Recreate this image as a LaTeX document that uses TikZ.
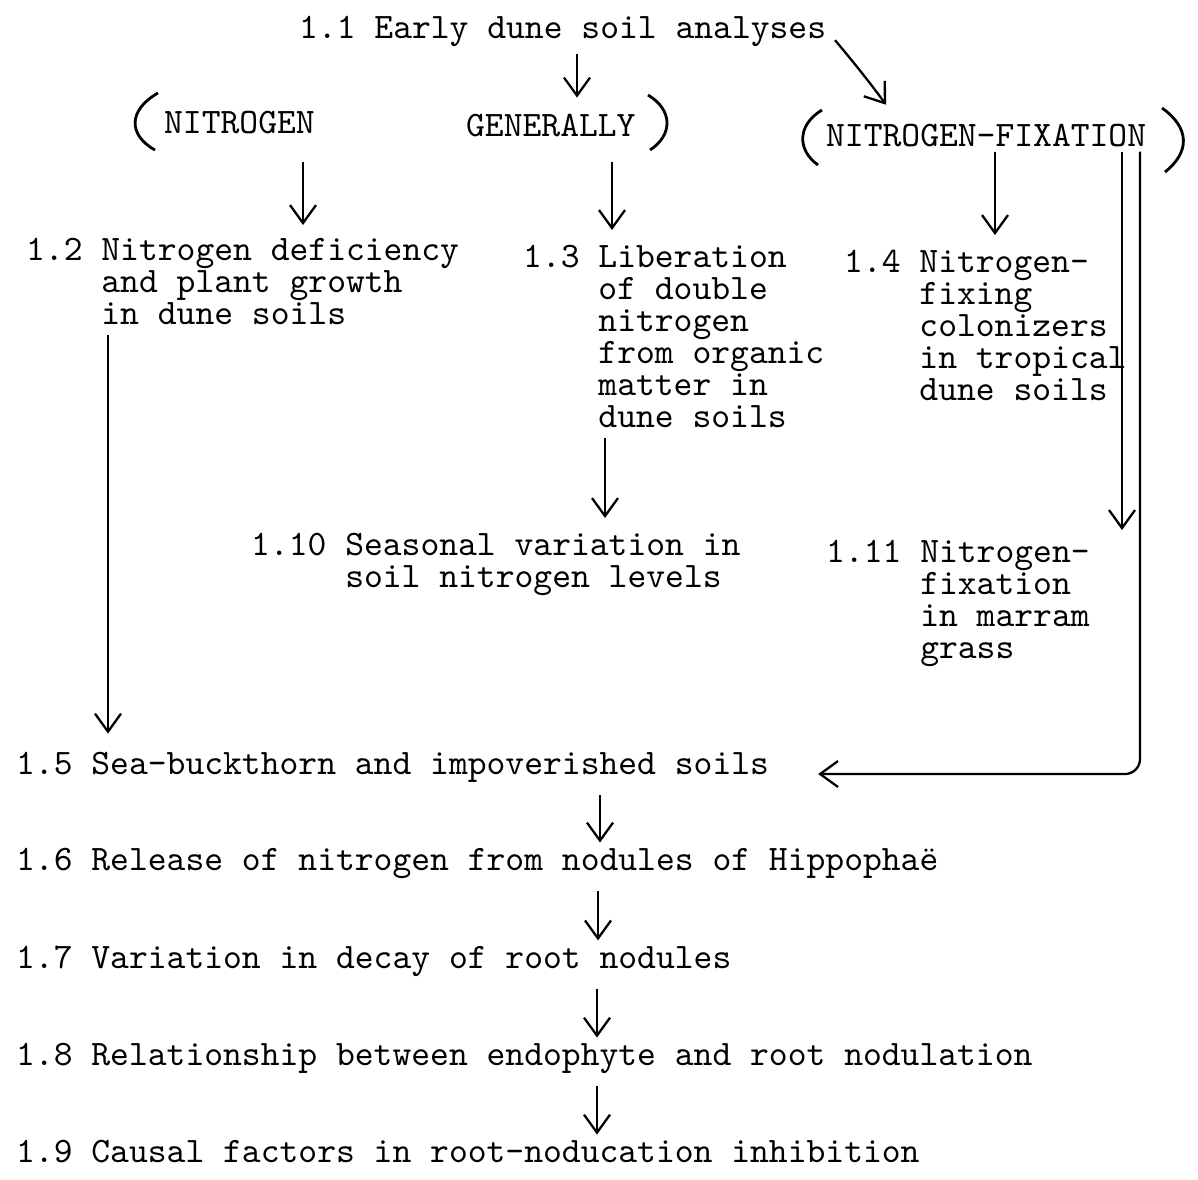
\documentclass[tikz,border=0pt]{standalone}
\usepackage{fontspec}
\usetikzlibrary{arrows.meta}

\begin{document}
\begin{tikzpicture}[x=0.1mm, y=-0.1mm, line width=0.65pt,
	every node/.style={inner sep=0pt, font=\ttfamily\fontsize{10.2}{9.1}\selectfont},
	txt/.style={anchor=base west},
	blk/.style={anchor=north west},
	arr/.style={->, shorten <=1.2mm, shorten >=0.4mm},
	paren/.style={line width=0.8pt},
	>={Straight Barb[length=1.8mm,width=2.6mm]}]
	\useasboundingbox (0,0) rectangle (1198,1179);

	% headings
	\node[txt] (n11) at (298,38) {1.1 Early dune soil analyses};
	\node[txt] (nitro) at (163,133) {NITROGEN};
	\node[txt] (gen) at (465,136) {GENERALLY};
	\node[txt] (nfix) at (825,146) {NITROGEN-FIXATION};

	% brackets
	\draw[paren] (158,93) .. controls (128,110) and (128,135) .. (155,150);
	\draw[paren] (648,95) .. controls (673,110) and (673,135) .. (650,150);
	\draw[paren] (822,110) .. controls (797,125) and (797,150) .. (818,165);
	\draw[paren] (1162,108) .. controls (1190,128) and (1190,152) .. (1165,172);

	% topics
	\node[blk] (n12) at (25,237) {\begin{tabular}{@{}l@{ }l@{}}1.2 & Nitrogen deficiency\\ & and plant growth\\ & in dune soils\end{tabular}};
	\node[blk] (n13) at (522,244) {\begin{tabular}{@{}l@{ }l@{}}1.3 & Liberation\\ & of double\\ & nitrogen\\ & from organic\\ & matter in\\ & dune soils\end{tabular}};
	\node[blk] (n14) at (843,249) {\begin{tabular}{@{}l@{ }l@{}}1.4 & Nitrogen-\\ & fixing\\ & colonizers\\ & in tropical\\ & dune soils\end{tabular}};
	\node[blk] (n110) at (250,532) {\begin{tabular}{@{}l@{ }l@{}}1.10 & Seasonal variation in\\ & soil nitrogen levels\end{tabular}};
	\node[blk] (n111) at (825,539) {\begin{tabular}{@{}l@{ }l@{}}1.11 & Nitrogen-\\ & fixation\\ & in marram\\ & grass\end{tabular}};

	\node[txt] (n15) at (15,774) {1.5 Sea-buckthorn and impoverished soils};
	\node[txt] (n16) at (15,870) {1.6 Release of nitrogen from nodules of Hippophaë};
	\node[txt] (n17) at (15,968) {1.7 Variation in decay of root nodules};
	\node[txt] (n18) at (15,1065) {1.8 Relationship between endophyte and root nodulation};
	\node[txt] (n19) at (15,1162) {1.9 Causal factors in root-noducation inhibition};

	% links
	\draw[arr, shorten <=0.7mm, shorten >=1.5mm] ([xshift=27.9mm]n11.south west) -- ([xshift=27.9mm]n11.south west |- gen.north);
	\draw[arr, shorten <=1.2mm, shorten >=2.2mm] (n11.east) to[bend left=2] ([xshift=7.4mm]nfix.north west);
	\draw[arr, shorten <=2.7mm, shorten >=1.2mm] ([xshift=14mm]nitro.south west) -- ([xshift=14mm]nitro.south west |- n12.north);
	\draw[arr, shorten <=2.4mm, shorten >=1.4mm] ([xshift=14.7mm]gen.south west) -- ([xshift=14.7mm]gen.south west |- n13.north);
	\draw[arr, shorten <=0.4mm, shorten >=1.4mm] ([xshift=17mm]nfix.south west) -- ([xshift=17mm]nfix.south west |- n14.north);
	\draw[arr, shorten <=0.4mm, shorten >=0.9mm] ([xshift=29.7mm]nfix.south west) -- ([xshift=29.7mm]nfix.south west |- n111.north);
	\draw[arr, rounded corners=1.5mm, shorten <=0.4mm, shorten >=4.8mm] ([xshift=31.5mm]nfix.south west) |- (n15.base east);
	\draw[arr, shorten <=0mm, shorten >=1.7mm] ([xshift=8.3mm]n12.south west) -- ([xshift=8.3mm]n12.south west |- n15.north);
	\draw[arr, shorten <=0mm, shorten >=1.4mm] ([xshift=8.3mm]n13.south west) -- ([xshift=8.3mm]n13.south west |- n110.north);
	\draw[arr] ([xshift=58.5mm]n15.south west) -- ([xshift=58.5mm]n15.south west |- n16.north);
	\draw[arr] ([xshift=58.3mm]n16.south west) -- ([xshift=58.3mm]n16.south west |- n17.north);
	\draw[arr] ([xshift=58.2mm]n17.south west) -- ([xshift=58.2mm]n17.south west |- n18.north);
	\draw[arr] ([xshift=58.2mm]n18.south west) -- ([xshift=58.2mm]n18.south west |- n19.north);
\end{tikzpicture}
\end{document}
